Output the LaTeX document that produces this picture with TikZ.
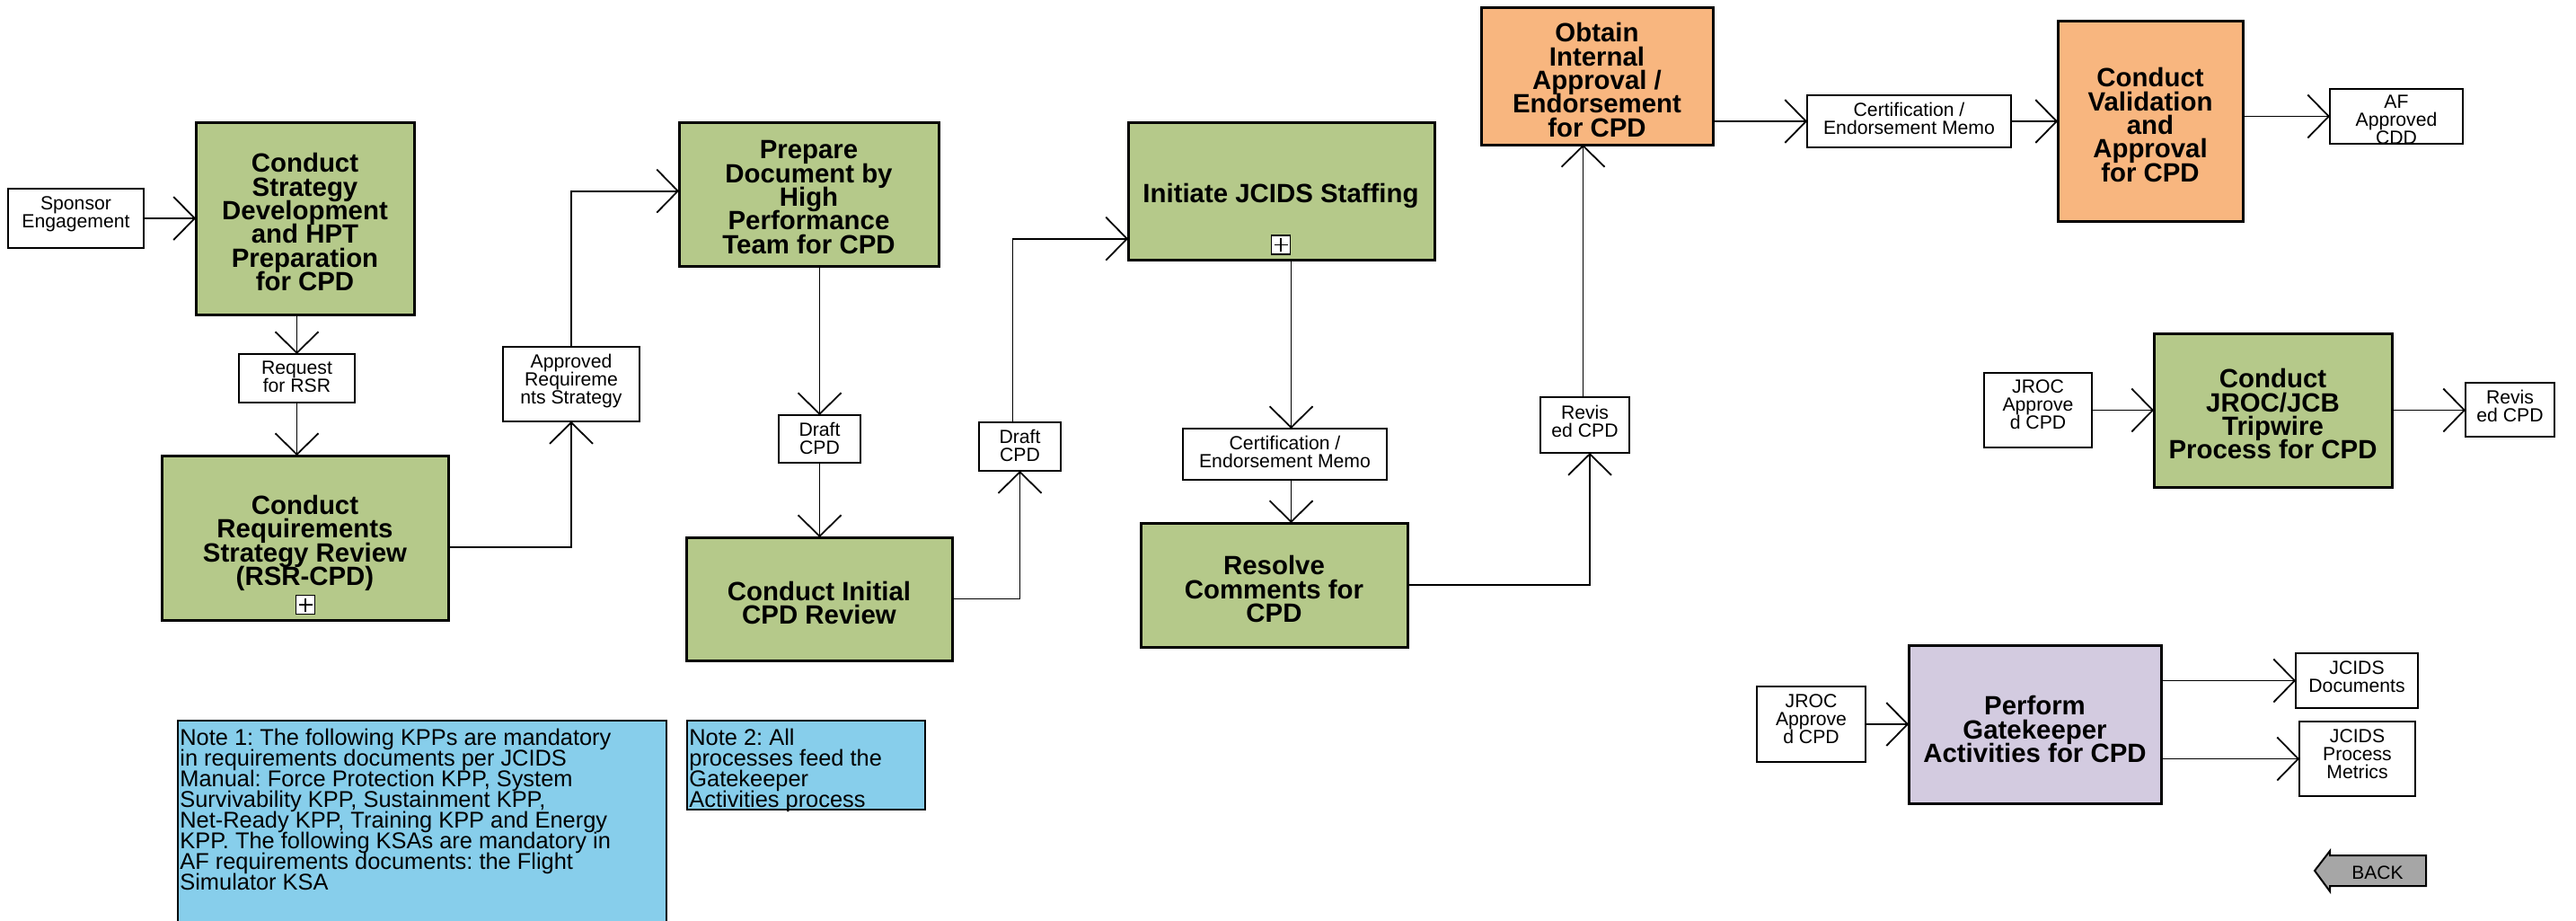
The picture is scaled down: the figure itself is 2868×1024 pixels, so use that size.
\documentclass[tikz,border=0pt]{standalone}
\usepackage{fontspec}
\setmainfont{Liberation Sans}
\usetikzlibrary{arrows.meta,fit}
\definecolor{boxgreen}{HTML}{B5C98A}
\definecolor{boxorange}{HTML}{F8B67F}
\definecolor{boxpurple}{HTML}{D3CBE0}
\definecolor{noteblue}{HTML}{87CEEB}
\definecolor{backgray}{HTML}{A6A6A6}
\frenchspacing
\newcommand\ttlfont{\fontsize{14.7}{13.2}\selectfont\bfseries\lineskiplimit=-50pt\relax}
\newcommand\lblfont{\fontsize{10.6}{10}\selectfont\lineskiplimit=-50pt\relax}
\newcommand\notefont{\fontsize{12.7}{11.5}\selectfont\lineskiplimit=-50pt\relax}
\begin{document}
\begin{tikzpicture}[x=0.5pt,y=-0.5pt,
  procbox/.style={draw, line width=1.5pt, inner sep=0pt, outer sep=0pt},
  procgreen/.style={procbox, fill=boxgreen},
  procorange/.style={procbox, fill=boxorange},
  procpurple/.style={procbox, fill=boxpurple},
  lblbox/.style={draw, fill=white, line width=1pt, inner sep=0pt, outer sep=0pt},
  notebox/.style={draw, fill=noteblue, line width=1pt, inner sep=0pt, outer sep=0pt},
  ttl/.style={anchor=north, inner sep=0pt, align=center, font=\ttlfont},
  ltx/.style={anchor=north, inner sep=0pt, align=center, font=\lblfont},
  ntx/.style={anchor=north west, inner sep=0pt, align=left, font=\notefont},
  conn/.style={line width=0.9pt, -{Straight Barb[length=11.75pt,width=24pt]}},
  plusbox/.style={draw, fill=white, line width=0.75pt, minimum size=10.5pt, inner sep=0pt,
    path picture={\draw[line width=0.75pt] ([yshift=-1.5pt]path picture bounding box.north) -- ([yshift=1.5pt]path picture bounding box.south)
      ([xshift=1.5pt]path picture bounding box.west) -- ([xshift=-1.5pt]path picture bounding box.east);}}
]
\useasboundingbox (0,0) rectangle (2868,1024);

% ---------- process boxes ----------
\node[procgreen, fit={(218,136) (461,350)}] (box1) {};
\node[ttl] (t1) at (339.5,170) {Conduct\\Strategy\\Development\\and HPT\\Preparation\\for CPD};

\node[procgreen, fit={(180,507) (499,690)}] (box2) {};
\node[ttl] (t2) at (339.5,550.5) {Conduct\\Requirements\\Strategy Review\\(RSR-CPD)};
\node[plusbox] (plus2) at (340,673) {};

\node[procgreen, fit={(756,136) (1045,296)}] (box3) {};
\node[ttl] (t3) at (900.5,156) {Prepare\\Document by\\High\\Performance\\Team for CPD};

\node[procgreen, fit={(764,598) (1060,735)}] (box4) {};
\node[ttl] (t4) at (912,646.5) {Conduct Initial\\CPD Review};

\node[procgreen, fit={(1256,136) (1597,289)}] (box5) {};
\node[ttl] (t5) at (1426,203.7) {Initiate JCIDS Staffing};
\node[plusbox] (plus5) at (1426,272.5) {};

\node[procgreen, fit={(1270,582) (1567,720)}] (box6) {};
\node[ttl] (t6) at (1418.5,618) {Resolve\\Comments for\\CPD};

\node[procorange, fit={(1649,8) (1907,161)}] (box7) {};
\node[ttl] (t7) at (1778,25) {Obtain\\Internal\\Approval /\\Endorsement\\for CPD};

\node[procorange, fit={(2291,23) (2497,246)}] (box8) {};
\node[ttl] (t8) at (2394,75) {Conduct\\Validation\\and\\Approval\\for CPD};

\node[procgreen, fit={(2398,371) (2663,542)}] (box9) {};
\node[ttl] (t9) at (2530.5,410) {Conduct\\JROC/JCB\\Tripwire\\Process for CPD};

\node[procpurple, fit={(2125,718) (2406,894)}] (box10) {};
\node[ttl] (t10) at (2265.5,774) {Perform\\Gatekeeper\\Activities for CPD};

% ---------- label boxes ----------
\node[lblbox, fit={(9,210) (160,276)}] (sponsor) {};
\node[ltx] (sponsort) at (84.5,218) {Sponsor\\Engagement};

\node[lblbox, fit={(266,394) (395,448)}] (req) {};
\node[ltx] (reqt) at (330.5,402) {Request\\for RSR};

\node[lblbox, fit={(560,386) (712,469)}] (appr) {};
\node[ltx] (apprt) at (636,394) {Approved\\Requireme\\nts Strategy};

\node[lblbox, fit={(867,462) (958,515)}] (d1) {};
\node[ltx] (d1t) at (912.5,470) {Draft\\CPD};

\node[lblbox, fit={(1090,470) (1181,524)}] (d2) {};
\node[ltx] (d2t) at (1135.5,478) {Draft\\CPD};

\node[lblbox, fit={(1317,477) (1544,534)}] (cert1) {};
\node[ltx] (cert1t) at (1430.5,485) {Certification /\\Endorsement Memo};

\node[lblbox, fit={(1715,442) (1814,504)}] (rev1) {};
\node[ltx] (rev1t) at (1764.5,450.5) {Revis\\ed CPD};

\node[lblbox, fit={(2012,106) (2239,164)}] (cert2) {};
\node[ltx] (cert2t) at (2125.5,114) {Certification /\\Endorsement Memo};

\node[lblbox, fit={(2594,99) (2742,160)}] (af) {};
\begin{scope}
  \clip (2594,99) rectangle (2742,159);
  \node[ltx] (aft) at (2668,106) {AF\\Approved\\CDD};
\end{scope}

\node[lblbox, fit={(2209,415) (2329,498)}] (j1) {};
\node[ltx] (j1t) at (2269,422) {JROC\\Approve\\d CPD};

\node[lblbox, fit={(2745,426) (2844,486)}] (rev2) {};
\node[ltx] (rev2t) at (2794.5,434) {Revis\\ed CPD};

\node[lblbox, fit={(1956,764) (2077,848)}] (j2) {};
\node[ltx] (j2t) at (2016.5,772) {JROC\\Approve\\d CPD};

\node[lblbox, fit={(2556,727) (2692,788)}] (docs) {};
\node[ltx] (docst) at (2624,735) {JCIDS\\Documents};

\node[lblbox, fit={(2560,803) (2689,886)}] (metrics) {};
\node[ltx] (metricst) at (2624.5,811) {JCIDS\\Process\\Metrics};

% ---------- notes ----------
\node[notebox, fit={(198,802) (742,1040)}] (note1) {};
\node[ntx] (note1t) at (200,811) {Note 1: The following KPPs are mandatory\\in requirements documents per JCIDS\\Manual: Force Protection KPP, System\\Survivability KPP, Sustainment KPP,\\Net-Ready KPP, Training KPP and Energy\\KPP. The following KSAs are mandatory in\\AF requirements documents: the Flight\\Simulator KSA};

\node[notebox, fit={(765,802) (1030,901)}] (note2) {};
\node[ntx] (note2t) at (767,811) {Note 2: All\\processes feed the\\Gatekeeper\\Activities process};

% ---------- back button ----------
\draw[fill=backgray, line width=1pt] (2577,969) -- (2594,947) -- (2594,952) -- (2701,952) -- (2701,986) -- (2594,986) -- (2594,992) -- cycle;
\node[inner sep=0pt, font=\fontsize{10.5}{10}\selectfont] (back) at (2647,971) {BACK};

% ---------- connectors ----------
\coordinate (c1top) at ([xshift=3.5pt]cert1.north);
\coordinate (c1bot) at ([xshift=3.5pt]cert1.south);
\coordinate (r1bot) at ([xshift=2.75pt]rev1.south);
\coordinate (r1top) at ([xshift=-1pt]rev1.north);
\coordinate (d2top) at ([xshift=-4pt]d2.north);
\coordinate (b5in) at ([yshift=-26.6pt]box5.west);
\coordinate (b2out) at ([yshift=-5.25pt]box2.east);
\coordinate (b3in) at ([yshift=1.7pt]box3.west);

\draw[conn] (sponsor.east) -- (sponsor.east -| box1.west);
\draw[conn] (box1.south -| req.north) -- (req.north);
\draw[conn] (req.south) -- (req.south |- box2.north);
\draw[conn] (b2out) -| (appr.south);
\draw[conn] (appr.north) |- (b3in);
\draw[conn] (box3.south -| d1.north) -- (d1.north);
\draw[conn] (d1.south) -- (d1.south |- box4.north);
\draw[conn] (box4.east) -| (d2.south);
\draw[conn] (d2top) |- (b5in);
\draw[conn] (box5.south -| c1top) -- (c1top);
\draw[conn] (c1bot) -- (c1bot |- box6.north);
\draw[conn] (box6.east) -| (r1bot);
\draw[conn] (r1top) -- (r1top |- box7.south);
\draw[conn] (cert2.west -| box7.east) -- (cert2.west);
\draw[conn] (cert2.east) -- (cert2.east -| box8.west);
\draw[conn] (af.west -| box8.east) -- (af.west);
\draw[conn] (j1.east) -- (j1.east -| box9.west);
\draw[conn] (box9.east) -- (box9.east -| rev2.west);
\draw[conn] (j2.east) -- (j2.east -| box10.west);
\draw[conn] (docs.west -| box10.east) -- (docs.west);
\draw[conn] (metrics.west -| box10.east) -- (metrics.west);
\end{tikzpicture}
\end{document}
